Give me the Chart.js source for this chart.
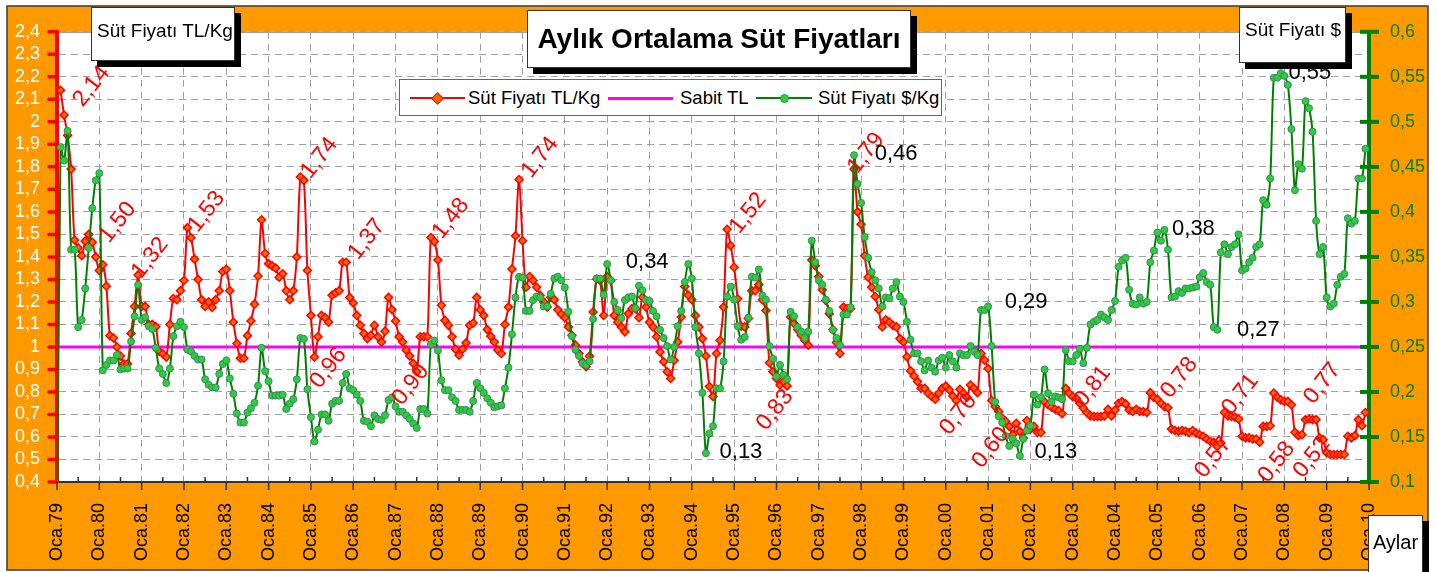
<!DOCTYPE html>
<html lang="tr">
<head>
<meta charset="utf-8">
<title>Aylık Ortalama Süt Fiyatları</title>
<script src="https://cdn.jsdelivr.net/npm/chart.js@4.4.1/dist/chart.umd.min.js"></script>
<style>
    html, body { margin: 0; padding: 0; background: #fff; }
    #wrap { position: relative; width: 1437px; height: 572px; overflow: hidden; font-family: Arial, "Liberation Sans", sans-serif; }
    #chart { position: absolute; left: 0; top: 0; }
    .box { position: absolute; background: #fff; border: 1px solid #333; box-shadow: 6px 6px 0 #000; box-sizing: border-box; color: #000; white-space: nowrap; }
    #title { left: 527px; top: 10px; width: 384px; height: 58px; font-weight: bold; font-size: 28px; display: flex; align-items: center; justify-content: center; }
    #boxTL { left: 91px; top: 7px; width: 144px; height: 54px; font-size: 19px; line-height: 22px; padding: 12px 0 0 5px; }
    #boxUSD { left: 1239px; top: 7px; width: 107px; height: 56px; font-size: 19px; line-height: 22px; padding: 11px 0 0 5px; }
    #boxX { left: 1368px; top: 515px; width: 55px; height: 62px; font-size: 20px; line-height: 24px; padding-top: 14px; text-align: center; }
    #legend { position: absolute; left: 399px; top: 79px; width: 543px; height: 37px; background: #fff; border: 1px solid #666; box-sizing: border-box; }
    #legend span { position: absolute; }
    .lg-line { top: 17px; height: 2px; }
    .lg-text { top: 7px; font-size: 18.5px; line-height: 21px; white-space: nowrap; }
    .lg-diamond { top: 14px; width: 7px; height: 7px; background: #ff6a00; border: 1px solid #f00; transform: rotate(45deg); }
    .lg-dot { top: 14px; width: 7px; height: 7px; border-radius: 50%; background: #2ecc40; border: 1px solid #3a8a5a; }
</style>
</head>
<body>
<div id="wrap">
    <canvas id="chart" width="1437" height="572"></canvas>
    <div class="box" id="boxTL">Süt Fiyatı TL/Kg</div>
    <div class="box" id="title">Aylık Ortalama Süt Fiyatları</div>
    <div class="box" id="boxUSD">Süt Fiyatı $</div>
    <div class="box" id="boxX">Aylar</div>
    <div id="legend">
        <span class="lg-line" style="left:10px;width:55px;background:#f00"></span>
        <span class="lg-diamond" style="left:33px"></span>
        <span class="lg-text" style="left:68px">Süt Fiyatı TL/Kg</span>
        <span class="lg-line" style="left:208px;width:65px;height:3px;background:#f0f"></span>
        <span class="lg-text" style="left:280px">Sabit TL</span>
        <span class="lg-line" style="left:356px;width:56px;background:#008000"></span>
        <span class="lg-dot" style="left:380px"></span>
        <span class="lg-text" style="left:418px">Süt Fiyatı $/Kg</span>
    </div>
</div>
<script>
// years on the axis, Oca.79 .. Oca.10
const yearLabels = ['79','80','81','82','83','84','85','86','87','88','89','90','91','92','93','94',
                    '95','96','97','98','99','00','01','02','03','04','05','06','07','08','09','10'];
const monthNames = ['Oca','Şub','Mar','Nis','May','Haz','Tem','Ağu','Eyl','Eki','Kas','Ara'];

// monthly milk price, TL/Kg (left axis), one row per year
const milkTL = [
    null, 2.14, 2.03, 1.94, 1.79, 1.475, 1.44, 1.405, 1.47, 1.50, 1.465, 1.40,
    1.34, 1.365, 1.27, 1.05, 1.04, 1.00, 0.96, 0.925, 0.925, 1.06, 1.18, 1.32,
    1.18, 1.18, 1.10, 1.10, 1.09, 0.98, 0.97, 0.955, 1.10, 1.215, 1.21, 1.25,
    1.295, 1.53, 1.485, 1.39, 1.30, 1.21, 1.18, 1.20, 1.175, 1.21, 1.25, 1.335,
    1.345, 1.25, 1.11, 1.015, 0.95, 0.95, 1.05, 1.115, 1.19, 1.315, 1.565, 1.415,
    1.37, 1.36, 1.35, 1.31, 1.325, 1.25, 1.21, 1.25, 1.40, 1.755, 1.74, 1.34,
    1.14, 0.955, 1.045, 1.14, 1.13, 1.11, 1.23, 1.24, 1.25, 1.376, 1.376, 1.22,
    1.195, 1.14, 1.096, 1.06, 1.037, 1.052, 1.096, 1.045, 1.022, 1.07, 1.22, 1.165,
    1.115, 1.045, 1.022, 0.986, 0.96, 0.927, 0.89, 1.045, 1.045, 1.045, 1.486, 1.468,
    1.386, 1.185, 1.118, 1.096, 1.045, 0.99, 0.963, 0.99, 1.018, 1.096, 1.106, 1.22,
    1.165, 1.14, 1.077, 1.048, 1.022, 0.986, 0.971, 1.10, 1.177, 1.346, 1.494, 1.744,
    1.472, 1.265, 1.313, 1.295, 1.265, 1.229, 1.20, 1.177, 1.221, 1.21, 1.165, 1.145,
    1.13, 1.089, 1.052, 1.008, 0.971, 0.934, 0.912, 0.959, 1.155, 1.302, 1.295, 1.14,
    1.313, 1.295, 1.14, 1.11, 1.089, 1.067, 1.148, 1.17, 1.17, 1.13, 1.221, 1.177,
    1.11, 1.089, 1.045, 0.978, 0.934, 0.89, 0.86, 0.941, 1.022, 1.133, 1.268, 1.23,
    1.21, 1.14, 1.089, 1.037, 0.96, 0.824, 0.78, 0.971, 1.03, 1.177, 1.523, 1.45,
    1.354, 1.214, 1.092, 1.089, 1.126, 1.25, 1.25, 1.277, 1.21, 1.162, 0.93, 0.89,
    0.86, 0.831, 0.846, 0.827, 1.133, 1.104, 1.077, 1.052, 1.03, 1.008, 1.386, 1.361,
    1.313, 1.254, 1.206, 1.148, 1.077, 1.02, 0.971, 1.177, 1.17, 1.17, 1.79, 1.60,
    1.545, 1.405, 1.31, 1.265, 1.224, 1.165, 1.089, 1.121, 1.11, 1.096, 1.089, 1.037,
    1.022, 0.956, 0.894, 0.871, 0.846, 0.816, 0.816, 0.794, 0.78, 0.768, 0.794, 0.816,
    0.826, 0.809, 0.782, 0.762, 0.812, 0.794, 0.776, 0.831, 0.816, 0.797, 0.971, 0.941,
    0.904, 0.762, 0.735, 0.713, 0.684, 0.669, 0.647, 0.61, 0.661, 0.625, 0.595, 0.673,
    0.635, 0.647, 0.62, 0.62, 0.757, 0.743, 0.732, 0.723, 0.717, 0.703, 0.816, 0.794,
    0.779, 0.772, 0.75, 0.728, 0.709, 0.694, 0.691, 0.691, 0.691, 0.694, 0.723, 0.694,
    0.72, 0.75, 0.757, 0.747, 0.72, 0.713, 0.723, 0.713, 0.713, 0.709, 0.797, 0.776,
    0.768, 0.75, 0.735, 0.73, 0.635, 0.629, 0.625, 0.629, 0.625, 0.62, 0.629, 0.617,
    0.61, 0.603, 0.591, 0.581, 0.576, 0.558, 0.573, 0.709, 0.694, 0.691, 0.688, 0.68,
    0.603, 0.596, 0.596, 0.591, 0.591, 0.577, 0.647, 0.647, 0.65, 0.795, 0.777, 0.765,
    0.758, 0.758, 0.743, 0.621, 0.606, 0.61, 0.677, 0.68, 0.677, 0.677, 0.596, 0.588,
    0.53, 0.522, 0.522, 0.522, 0.522, 0.522, 0.603, 0.596, 0.606, 0.677, 0.65, 0.709
];

// monthly milk price, $/Kg (right axis)
const milkUSD = [
    0, 0.472, 0.457, 0.49, 0.358, 0.358, 0.272, 0.28, 0.315, 0.36, 0.404, 0.435,
    0.443, 0.224, 0.23, 0.235, 0.235, 0.241, 0.225, 0.226, 0.226, 0.256, 0.284, 0.319,
    0.28, 0.283, 0.273, 0.27, 0.249, 0.226, 0.22, 0.21, 0.226, 0.262, 0.273, 0.278,
    0.272, 0.247, 0.245, 0.24, 0.236, 0.236, 0.214, 0.208, 0.205, 0.205, 0.22, 0.231,
    0.235, 0.215, 0.198, 0.176, 0.166, 0.166, 0.177, 0.182, 0.188, 0.207, 0.249, 0.223,
    0.212, 0.196, 0.196, 0.196, 0.197, 0.181, 0.187, 0.192, 0.214, 0.26, 0.259, 0.203,
    0.172, 0.145, 0.158, 0.175, 0.175, 0.168, 0.187, 0.19, 0.19, 0.21, 0.22, 0.204,
    0.202, 0.197, 0.19, 0.168, 0.167, 0.162, 0.174, 0.17, 0.169, 0.174, 0.191, 0.194,
    0.184, 0.178, 0.178, 0.174, 0.17, 0.165, 0.16, 0.181, 0.181, 0.176, 0.253, 0.257,
    0.246, 0.213, 0.202, 0.202, 0.194, 0.19, 0.18, 0.18, 0.18, 0.178, 0.19, 0.21,
    0.204, 0.199, 0.193, 0.188, 0.183, 0.184, 0.185, 0.204, 0.227, 0.264, 0.305, 0.328,
    0.327, 0.29, 0.29, 0.302, 0.306, 0.305, 0.295, 0.295, 0.309, 0.326, 0.328, 0.324,
    0.316, 0.289, 0.262, 0.247, 0.24, 0.232, 0.23, 0.234, 0.281, 0.326, 0.326, 0.308,
    0.342, 0.324, 0.30, 0.291, 0.282, 0.302, 0.305, 0.306, 0.293, 0.318, 0.313, 0.302,
    0.301, 0.29, 0.284, 0.269, 0.26, 0.251, 0.236, 0.25, 0.273, 0.29, 0.322, 0.342,
    0.326, 0.272, 0.243, 0.199, 0.132, 0.154, 0.162, 0.204, 0.204, 0.234, 0.306, 0.317,
    0.3025, 0.273, 0.258, 0.261, 0.2825, 0.328, 0.327, 0.336, 0.307, 0.3025, 0.251, 0.237,
    0.217, 0.23, 0.219, 0.214, 0.289, 0.284, 0.272, 0.267, 0.26, 0.267, 0.368, 0.344,
    0.324, 0.319, 0.3025, 0.29, 0.269, 0.26, 0.252, 0.286, 0.286, 0.294, 0.463, 0.431,
    0.41, 0.372, 0.349, 0.333, 0.324, 0.315, 0.295, 0.305, 0.304, 0.315, 0.322, 0.306,
    0.30, 0.278, 0.258, 0.243, 0.243, 0.234, 0.224, 0.235, 0.227, 0.2225, 0.235, 0.238,
    0.227, 0.241, 0.234, 0.227, 0.243, 0.241, 0.241, 0.251, 0.245, 0.241, 0.291, 0.291,
    0.295, 0.251, 0.189, 0.173, 0.166, 0.151, 0.14, 0.148, 0.143, 0.129, 0.148, 0.157,
    0.1625, 0.197, 0.186, 0.194, 0.225, 0.1986, 0.189, 0.195, 0.194, 0.192, 0.2465, 0.234,
    0.234, 0.241, 0.248, 0.232, 0.249, 0.275, 0.278, 0.28, 0.286, 0.283, 0.28, 0.291,
    0.301, 0.339, 0.346, 0.349, 0.3135, 0.298, 0.297, 0.305, 0.298, 0.30, 0.344, 0.357,
    0.377, 0.368, 0.38, 0.358, 0.305, 0.306, 0.312, 0.31, 0.315, 0.315, 0.316, 0.317,
    0.3275, 0.332, 0.322, 0.319, 0.272, 0.269, 0.355, 0.364, 0.353, 0.361, 0.364, 0.375,
    0.335, 0.337, 0.344, 0.349, 0.361, 0.364, 0.413, 0.408, 0.437, 0.549, 0.549, 0.554,
    0.551, 0.541, 0.492, 0.424, 0.453, 0.448, 0.523, 0.515, 0.489, 0.39, 0.353, 0.361,
    0.305, 0.295, 0.298, 0.319, 0.328, 0.331, 0.393, 0.387, 0.39, 0.437, 0.437, 0.47
];

// the flat reference line
const sabitTL = [1, 1];

// annotated points: [month index, text]
const tlNotes = [
    [1, '2,14'], [9, '1,50'], [23, '1,32'], [37, '1,53'], [69, '1,74'], [73, '0,96'],
    [81, '1,37'], [102, '0,90'], [106, '1,48'], [131, '1,74'], [190, '1,52'], [207, '0,83'],
    [226, '1,79'], [255, '0,76'], [271, '0,60'], [286, '0,81'], [310, '0,78'], [329, '0,57'],
    [331, '0,71'], [341, '0,58'], [348, '0,77'], [362, '0,52']
];
const usdNotes = [
    [156, '0,34'], [184, '0,13'], [226, '0,46'], [264, '0,29'], [273, '0,13'],
    [314, '0,38'], [329, '0,27'], [347, '0,55']
];
// where each note sits relative to its point (px)
const tlNoteOffsets = [
    [31, -4], [29, -12], [12, -17], [19, -16], [19, -19], [14, 11],
    [24, -23], [-6, 13], [20, -19], [21, -22], [21, -16], [-12, 24],
    [12, -16], [2, 14], [-22, 13], [27, -2], [29, -15], [-4, 11],
    [16, -18], [17, 20], [38, -18], [-22, 3]
];
const usdNoteOffsets = [
    [40, -2], [35, -1], [42, -1], [38, -4], [36, -4], [29, -1], [41, 0], [29, 0]
];

const monthLabels = [];
yearLabels.forEach(y => monthNames.forEach(m => monthLabels.push(m + '.' + y)));
monthLabels.length = (yearLabels.length - 1) * 12 + 1;
const lastIdx = monthLabels.length - 1;

function commaNum(v, digits) {
    return String(Number(v.toFixed(digits))).replace('.', ',');
}

const framePlugin = {
    id: 'frame',
    beforeDraw(chart) {
        const { ctx, chartArea: a } = chart;
        ctx.save();
        ctx.fillStyle = '#ff9900';
        ctx.fillRect(7, 6, 1421, 564);
        ctx.strokeStyle = '#3a3a3a';
        ctx.lineWidth = 1.5;
        ctx.strokeRect(7, 6, 1421, 564);
        ctx.fillStyle = '#ffffff';
        ctx.fillRect(a.left, a.top, a.right - a.left, a.bottom - a.top);
        ctx.strokeStyle = '#8a8a8a';
        ctx.lineWidth = 1;
        ctx.strokeRect(a.left, a.top + 0.5, a.right - a.left, a.bottom - a.top);
        ctx.restore();
    }
};

const notesPlugin = {
    id: 'notes',
    afterDatasetsDraw(chart) {
        const { ctx, chartArea: a } = chart;
        const x = chart.scales.x, yl = chart.scales.yTL, yr = chart.scales.yUSD;
        ctx.save();
        ctx.beginPath();
        ctx.rect(a.left, a.top, a.right - a.left, a.bottom - a.top);
        ctx.clip();
        ctx.textAlign = 'center';
        ctx.textBaseline = 'middle';

        ctx.font = '23px Arial, "Liberation Sans", sans-serif';
        ctx.fillStyle = '#ff0000';
        tlNotes.forEach((n, k) => {
            const px = x.getPixelForValue(n[0]) + tlNoteOffsets[k][0];
            const py = yl.getPixelForValue(milkTL[n[0]]) + tlNoteOffsets[k][1];
            ctx.save();
            ctx.translate(px, py);
            ctx.rotate(-52 * Math.PI / 180);
            ctx.fillText(n[1], 0, 0);
            ctx.restore();
        });

        ctx.font = '22px Arial, "Liberation Sans", sans-serif';
        ctx.fillStyle = '#000000';
        usdNotes.forEach((n, k) => {
            const px = x.getPixelForValue(n[0]) + usdNoteOffsets[k][0];
            const py = yr.getPixelForValue(milkUSD[n[0]]) + usdNoteOffsets[k][1];
            ctx.fillText(n[1], px, py);
        });
        ctx.restore();
    }
};

const tickPlugin = {
    id: 'axisTicks',
    afterDraw(chart) {
        const { ctx, chartArea: a } = chart;
        const x = chart.scales.x, yl = chart.scales.yTL, yr = chart.scales.yUSD;
        ctx.save();
        ctx.lineCap = 'round';
        ctx.strokeStyle = '#ff0000';
        ctx.lineWidth = 3.5;
        yl.ticks.forEach(t => {
            const y = yl.getPixelForValue(t.value);
            ctx.beginPath(); ctx.moveTo(a.left - 8, y); ctx.lineTo(a.left, y); ctx.stroke();
        });
        ctx.lineCap = 'butt';
        ctx.strokeStyle = '#008000';
        ctx.lineWidth = 4;
        yr.ticks.forEach(t => {
            const y = yr.getPixelForValue(t.value);
            ctx.beginPath(); ctx.moveTo(a.right - 9, y); ctx.lineTo(a.right + 10, y); ctx.stroke();
        });
        ctx.strokeStyle = '#333333';
        ctx.lineWidth = 1.5;
        for (let i = 0; i <= lastIdx; i += 6) {
            const px = x.getPixelForValue(i);
            ctx.beginPath();
            if (i % 12 === 0) { ctx.moveTo(px, a.bottom); ctx.lineTo(px, a.bottom + 8); }
            else { ctx.moveTo(px, a.bottom); ctx.lineTo(px, a.bottom - 5); }
            ctx.stroke();
        }
        ctx.restore();
    }
};

document.addEventListener('DOMContentLoaded', function() {
    Chart.defaults.font.family = 'Arial, "Liberation Sans", sans-serif';
    const ctx = document.getElementById('chart').getContext('2d');

    new Chart(ctx, {
        type: 'line',
        data: {
            labels: monthLabels,
            datasets: [
                {
                    label: 'Süt Fiyatı $/Kg',
                    data: milkUSD,
                    yAxisID: 'yUSD',
                    order: 1,
                    borderColor: '#008000',
                    borderWidth: 2,
                    tension: 0.3,
                    pointRadius: 3.5,
                    pointBackgroundColor: '#2ecc40',
                    pointBorderColor: '#3a8a5a',
                    pointBorderWidth: 1
                },
                {
                    label: 'Süt Fiyatı TL/Kg',
                    data: milkTL,
                    yAxisID: 'yTL',
                    order: 2,
                    borderColor: '#ff0000',
                    borderWidth: 2,
                    tension: 0.3,
                    pointStyle: 'rectRot',
                    pointRadius: 4,
                    pointBackgroundColor: '#ff6a00',
                    pointBorderColor: '#ff0000',
                    pointBorderWidth: 1.5
                },
                {
                    label: 'Sabit TL',
                    data: [{ x: monthLabels[0], y: sabitTL[0] }, { x: monthLabels[lastIdx], y: sabitTL[1] }],
                    yAxisID: 'yTL',
                    order: 3,
                    borderColor: '#ff00ff',
                    borderWidth: 3,
                    pointRadius: 0
                }
            ]
        },
        options: {
            responsive: false,
            animation: false,
            layout: { padding: { left: 7, right: 9, top: 30, bottom: 2 } },
            plugins: {
                legend: { display: false },
                tooltip: { enabled: false }
            },
            scales: {
                x: {
                    afterFit: s => { s.height = 88; },
                    grid: {
                        color: c => (c.index % 12 === 0 && c.index > 0 && c.index < lastIdx) ? '#a0a0a0' : 'rgba(0,0,0,0)',
                        lineWidth: 1,
                        tickLength: 8,
                        tickColor: 'rgba(0,0,0,0)'
                    },
                    border: { color: '#333333', width: 2, dash: [7, 5] },
                    ticks: {
                        autoSkip: false,
                        minRotation: 90,
                        maxRotation: 90,
                        padding: 13,
                        color: '#000000',
                        font: { size: 18 },
                        callback: function(v, i) { return i % 12 === 0 ? this.getLabelForValue(v) : ''; }
                    }
                },
                yTL: {
                    axis: 'y',
                    position: 'left',
                    min: 0.4,
                    max: 2.4,
                    afterFit: s => { s.width = 50; },
                    grid: { color: '#a0a0a0', lineWidth: 1, drawTicks: false },
                    border: { color: '#ff0000', width: 4, dash: [7, 5] },
                    ticks: {
                        stepSize: 0.1,
                        autoSkip: false,
                        padding: 17,
                        color: '#ffffff',
                        font: { size: 18 },
                        callback: v => commaNum(v, 1)
                    }
                },
                yUSD: {
                    axis: 'y',
                    position: 'right',
                    min: 0.1,
                    max: 0.6,
                    afterFit: s => { s.width = 59; },
                    grid: { drawOnChartArea: false, drawTicks: false },
                    border: { color: '#008000', width: 4 },
                    ticks: {
                        stepSize: 0.05,
                        autoSkip: false,
                        padding: 21,
                        color: '#008000',
                        font: { size: 18 },
                        callback: v => commaNum(v, 2)
                    }
                }
            }
        },
        plugins: [framePlugin, notesPlugin, tickPlugin]
    });
});
</script>
</body>
</html>
